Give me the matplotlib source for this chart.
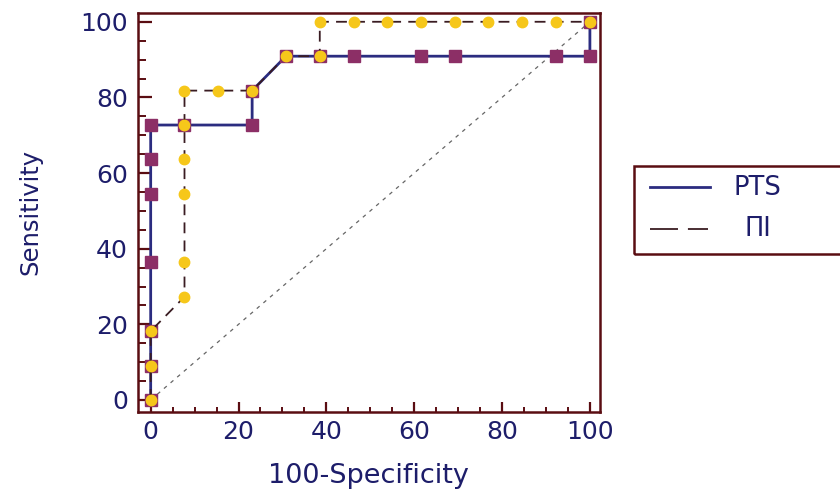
import matplotlib
matplotlib.use('Agg')
import matplotlib.pyplot as plt
from matplotlib.lines import Line2D
from matplotlib.patches import Rectangle

# ROC points (100-Specificity, Sensitivity)
pts_x = [0, 0, 0, 0, 0, 0, 0, 7.7, 23.1, 23.1, 30.8, 38.5, 46.2, 61.5, 69.2, 92.3, 100, 100]
pts_y = [0, 9.1, 18.2, 36.4, 54.5, 63.6, 72.7, 72.7, 72.7, 81.8, 90.9, 90.9, 90.9, 90.9, 90.9, 90.9, 90.9, 100]

pi_x = [0, 0, 0, 7.7, 7.7, 7.7, 7.7, 7.7, 7.7, 15.4, 23.1, 30.8, 38.5, 38.5, 46.2, 53.8,
        61.5, 69.2, 76.9, 84.6, 92.3, 100]
pi_y = [0, 9.1, 18.2, 27.3, 36.4, 54.5, 63.6, 72.7, 81.8, 81.8, 81.8, 90.9, 90.9, 100, 100, 100,
        100, 100, 100, 100, 100, 100]

series_labels = ['PTS', 'ПІ']
ticks = [0, 20, 40, 60, 80, 100]

navy = '#2b2c80'
plum = '#8c2f66'
gold = '#f6c71a'
frame = '#5a0d12'
txt = '#1d1d6a'
dash_col = '#3a1c22'

W, H = 840, 494
fig = plt.figure(figsize=(8.4, 4.94), dpi=100)
ax = fig.add_axes([137.5 / W, 1 - 411.7 / H, (600 - 137.5) / W, (411.7 - 12.7) / H])

# chance line
ax.plot([0, 100], [0, 100], color='#666666', lw=0.9, ls=(0, (3, 4)), zorder=1)

ax.plot(pts_x, pts_y, color=navy, lw=2.0, zorder=2)
ax.plot(pts_x, pts_y, ls='none', marker='s', ms=8, mfc=plum, mec=plum, zorder=3)

ax.plot(pi_x, pi_y, color=dash_col, lw=1.3, ls=(0, (6, 4)), zorder=4)
ax.plot(pi_x, pi_y, ls='none', marker='o', ms=7.5, mfc=gold, mec=gold, zorder=5)

ax.set_xlim(-3, 102.3)
ax.set_ylim(-3.1, 102.4)
ax.set_xticks(ticks)
ax.set_yticks(ticks)
ax.set_xticks(range(0, 101, 5), minor=True)
ax.set_yticks(range(0, 101, 5), minor=True)

for s in ax.spines.values():
    s.set_color(frame)
    s.set_linewidth(1.8)

ax.tick_params(axis='x', which='major', direction='in', length=7, width=1.6, color=frame,
               labelsize=18, labelcolor=txt, pad=6)
ax.tick_params(axis='x', which='minor', direction='in', length=3.5, width=1.4, color=frame)
ax.tick_params(axis='y', which='major', direction='in', length=10, width=1.6, color=frame,
               labelsize=18, labelcolor=txt, pad=7)
ax.tick_params(axis='y', which='minor', direction='in', length=5.5, width=1.4, color=frame)

ax.set_xlabel('100-Specificity', fontsize=19.5, color=txt, labelpad=14)
ax.set_ylabel('Sensitivity', fontsize=17.5, color=txt, labelpad=27)

# legend box (runs off the right edge, as in the source)
fig.add_artist(Rectangle((634 / W, 1 - 254 / H), 230 / W, 88 / H, transform=fig.transFigure,
                         fill=False, ec=frame, lw=1.8, clip_on=False))
fig.add_artist(Line2D([650 / W, 710 / W], [1 - 187 / H, 1 - 187 / H], transform=fig.transFigure,
                      color=navy, lw=2.0))
fig.add_artist(Line2D([650 / W, 708 / W], [1 - 229 / H, 1 - 229 / H], transform=fig.transFigure,
                      color=dash_col, lw=1.3, ls=(0, (15.5, 5.5))))
fig.text(757 / W, 1 - 188 / H, series_labels[0], ha='center', va='center', fontsize=18.5, color=txt)
fig.text(758 / W, 1 - 229 / H, series_labels[1], ha='center', va='center', fontsize=18.5, color=txt)

fig.savefig('out.png', dpi=100)
